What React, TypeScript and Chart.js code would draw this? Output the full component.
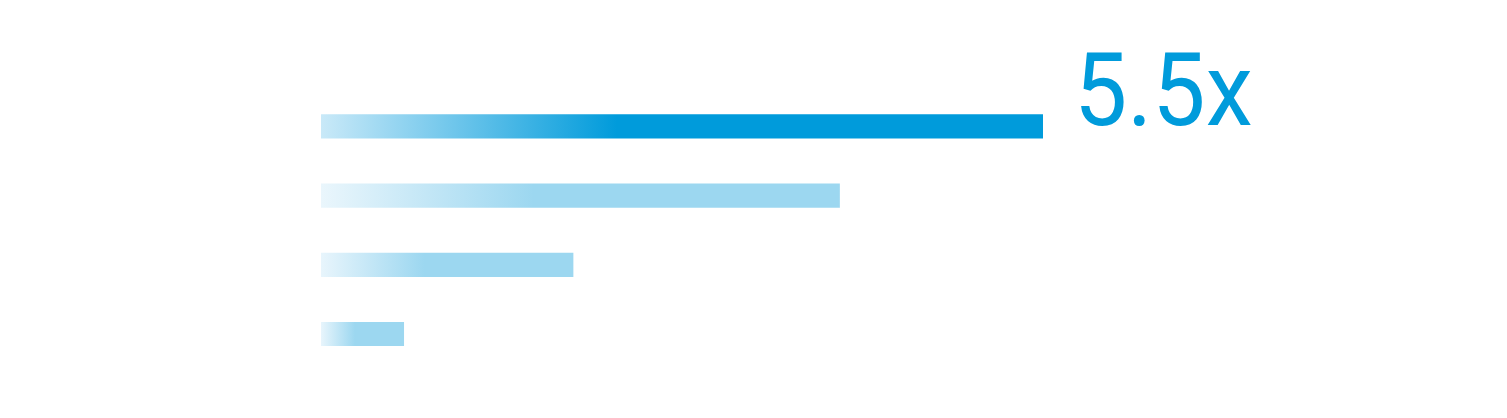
import React, { useEffect, useRef } from "react";
import { Chart, registerables } from "chart.js";

Chart.register(...registerables);

const categories = ["A", "B", "C", "D"];
const values = [5.5, 3.95, 1.92, 0.63];
const labelSuffix = "x";

const startColors = ["#c9e9f8", "#eaf6fc", "#e8f5fc", "#e8f5fc"];
const endColors = ["#009bdb", "#9cd7f0", "#9cd7f0", "#9cd7f0"];

const labelPlugin = {
  id: "topLabel",
  afterDatasetsDraw(chart: any) {
    const meta = chart.getDatasetMeta(0);
    const el = meta.data[0];
    if (!el) return;
    const ctx = chart.ctx;
    ctx.save();
    ctx.fillStyle = "#009bdb";
    ctx.font = "400 102px Roboto";
    ctx.textBaseline = "alphabetic";
    ctx.textAlign = "left";
    const x = el.x + 31;
    const y = el.y - 1.5;
    ctx.translate(x, y);
    ctx.scale(0.93, 1);
    ctx.fillText(`${values[0]}${labelSuffix}`, 0, 0);
    ctx.restore();
  },
};

export default function App() {
  const ref = useRef<HTMLCanvasElement>(null);
  useEffect(() => {
    document.body.style.margin = "0";
    const canvas = ref.current!;
    const chart = new Chart(canvas, {
      type: "bar",
      data: {
        labels: categories,
        datasets: [
          {
            data: values,
            barThickness: 23.5,
            backgroundColor: (c: any) => {
              const chart = c.chart;
              const xs = chart.scales?.x;
              const i = c.dataIndex;
              if (!xs || i === undefined || !chart.chartArea) return endColors[i ?? 0];
              const x0 = xs.getPixelForValue(0);
              const x1 = xs.getPixelForValue(values[i]);
              const g = chart.ctx.createLinearGradient(x0, 0, x0 + 0.41 * (x1 - x0), 0);
              g.addColorStop(0, startColors[i]);
              g.addColorStop(1, endColors[i]);
              return g;
            },
            borderWidth: 0,
          },
        ],
      },
      options: {
        indexAxis: "y",
        animation: false,
        responsive: false,
        maintainAspectRatio: false,
        layout: { padding: { left: 321, right: 464, top: 91.8, bottom: 49.4 } },
        plugins: { legend: { display: false }, tooltip: { enabled: false } },
        scales: {
          x: { display: false, min: 0, max: 5.5 },
          y: { display: false },
        },
      },
      plugins: [labelPlugin],
    });
    return () => chart.destroy();
  }, []);
  return (
    <div style={{ position: "absolute", left: 0, top: 0, width: 1507, height: 418, background: "#fff" }}>
      <canvas ref={ref} width={1507} height={418} style={{ width: 1507, height: 418, display: "block" }} />
    </div>
  );
}
